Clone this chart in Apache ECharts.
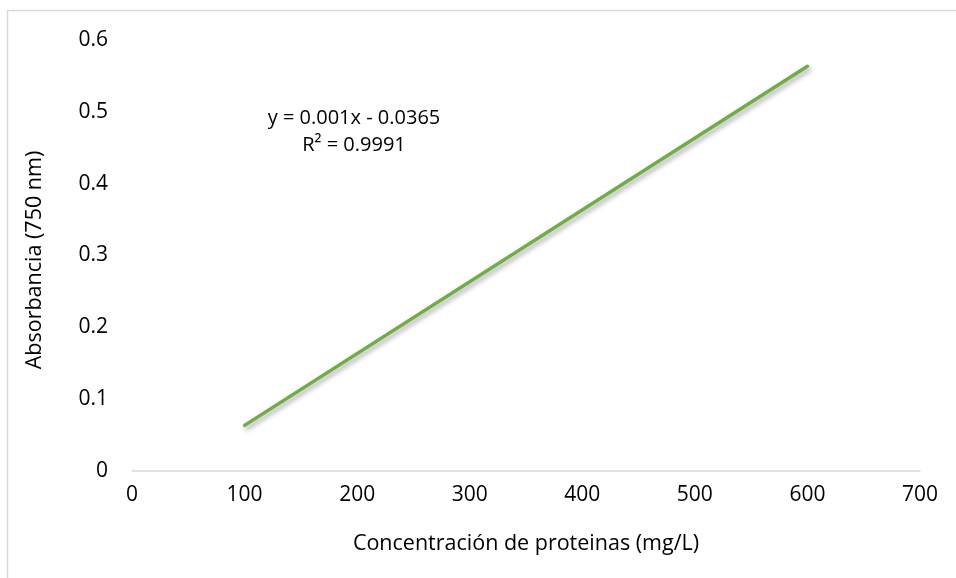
<!DOCTYPE html>
<html>
<head>
<meta charset="utf-8">
<script src="https://cdn.jsdelivr.net/npm/echarts@6/dist/echarts.min.js"></script>
<style>html,body{margin:0;padding:0;background:#fff;}#c{width:956px;height:578px;}</style>
</head>
<body>
<div id="c"></div>
<script>
// Trendline endpoints (x: concentration mg/L, y: absorbance)
var xValues = [100, 600];
var yValues = [0.0635, 0.5635];
var xTitle = 'Concentración de proteinas (mg/L)';
var yTitle = 'Absorbancia (750 nm)';
var equationLines = ['y = 0.001x - 0.0365', 'R² = 0.9991'];

var FONT = 'Open Sans';
var FS = 20;
var FT = 21.5;
var FL = 21;
var chart = echarts.init(document.getElementById('c'));
var data = xValues.map(function (x, i) { return [x, yValues[i]]; });

chart.setOption({
  animation: false,
  backgroundColor: '#fff',
  textStyle: { fontFamily: FONT },
  grid: { left: 132, right: 36, top: 40, bottom: 107, containLabel: false },
  xAxis: {
    type: 'value', min: 0, max: 700, interval: 100,
    name: xTitle, nameLocation: 'middle', nameGap: 62,
    nameTextStyle: { fontFamily: FONT, fontSize: FT, color: '#000' },
    axisLine: { show: true, lineStyle: { color: '#d9d9d9', width: 1.5 } },
    axisTick: { show: false },
    splitLine: { show: false },
    axisLabel: { fontFamily: FONT, fontSize: FL, color: '#000', margin: 14 }
  },
  yAxis: {
    type: 'value', min: 0, max: 0.6, interval: 0.1,
    axisLine: { show: false },
    axisTick: { show: false },
    splitLine: { show: false },
    axisLabel: { fontFamily: FONT, fontSize: FL, color: '#000', margin: 24 }
  },
  graphic: [
    { type: 'rect', shape: { x: 7.5, y: 10.5, width: 1200, height: 1200 },
      style: { fill: 'none', stroke: '#d9d9d9', lineWidth: 1.5 }, z: -1 },
    { type: 'text', x: 35, y: 260, rotation: Math.PI / 2,
      style: { text: yTitle, fontFamily: FONT, fontSize: FT, fill: '#000',
               textAlign: 'center', textVerticalAlign: 'middle' } },
    { type: 'text', x: 354, y: 118,
      style: { text: equationLines[0], fontFamily: FONT, fontSize: FS, fill: '#000',
               textAlign: 'center', textVerticalAlign: 'middle' } },
    { type: 'text', x: 354, y: 145,
      style: { text: equationLines[1], fontFamily: FONT, fontSize: FS, fill: '#000',
               textAlign: 'center', textVerticalAlign: 'middle' } }
  ],
  series: [{
    type: 'line', data: data, showSymbol: false, symbol: 'none',
    lineStyle: { color: '#70ad47', width: 3.5, cap: 'round',
                 shadowColor: 'rgba(0,0,0,0.35)', shadowBlur: 5, shadowOffsetX: 2, shadowOffsetY: 3 }
  }]
});
</script>
</body>
</html>
